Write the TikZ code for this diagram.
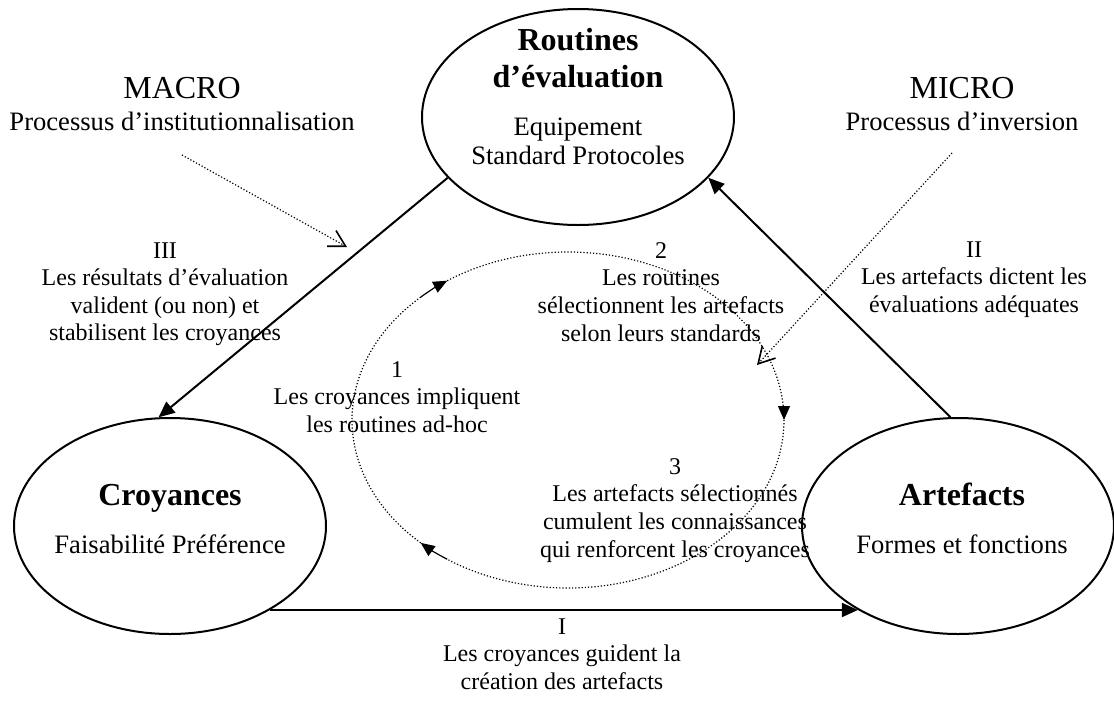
\documentclass[tikz,border=0pt]{standalone}
\usepackage{fontspec}
\setmainfont{Liberation Serif}
\usetikzlibrary{arrows.meta}
\usetikzlibrary{shapes.geometric}
\newcommand{\titre}{\fontsize{16}{18.4}\selectfont\bfseries}
\newcommand{\sous}{\fontsize{13.3}{14.5}\selectfont}
\newcommand{\corps}{\fontsize{12}{13.8}\selectfont}

\begin{document}
\begin{tikzpicture}[x=0.5pt, y=-0.5pt,
	bulle/.style={draw, line width=1pt, ellipse, minimum width=156pt, minimum height=108pt, inner sep=0pt},
	titre/.style={align=center, inner sep=0pt, font=\titre},
	sous/.style={align=center, inner sep=0pt, font=\sous},
	texte/.style={align=center, inner sep=0pt, font=\corps, anchor=north},
	fleche/.style={line width=1pt, -{Triangle[length=8pt, width=7pt]}},
	boucle/.style={densely dotted, line width=0.6pt},
	pointe/.style={line width=0.6pt, -{Triangle[length=7pt, width=6pt]}},
	influence/.style={densely dotted, line width=0.6pt, -{Straight Barb[length=8pt, width=9pt, line width=0.8pt]}}]
	\useasboundingbox (0,0) rectangle (1114,702);
	% les trois poles
	\node[bulle] (rout) at (578,117) {};
	\node[bulle] (croy) at (170,526) {};
	\node[bulle] (arte) at (958,526) {};
	\node[titre, anchor=north] (routT) at (578,28) {Routines\\d’évaluation};
	\node[sous, anchor=north] (routS) at (578,117) {Equipement\\Standard Protocoles};
	\node[titre, anchor=base] (croyT) at (170,505) {Croyances};
	\node[sous, anchor=base] (croyS) at (170,553) {Faisabilité Préférence};
	\node[titre, anchor=base] (arteT) at (962,505) {Artefacts};
	\node[sous, anchor=base] (arteS) at (962,553) {Formes et fonctions};
	% niveaux macro / micro
	\node[titre, font=\titre\mdseries, anchor=base] (macro) at (182,98) {MACRO};
	\node[sous, anchor=base] (macroS) at (182,130) {Processus d’institutionnalisation};
	\node[titre, font=\titre\mdseries, anchor=base] (micro) at (962,98) {MICRO};
	\node[sous, anchor=base] (microS) at (962,130) {Processus d’inversion};
	\coordinate (macroA) at (182,155);
	\coordinate (macroB) at (347,247);
	\coordinate (microA) at (952,153);
	\coordinate (microB) at (757,365);
	\draw[influence] (macroA) -- (macroB);
	\draw[influence] (microA) -- (microB);
	% relations entre poles
	\draw[fleche] (croy.-40) -- (arte.220);
	\draw[fleche] (arte.94) -- (rout.-25);
	\draw[fleche] (rout.205) -- (croy.96);
	\node[texte] (relI) at (562,618) {I\\Les croyances guident la\\création des artefacts};
	\node[texte] (relII) at (974,241) {II\\Les artefacts dictent les\\évaluations adéquates};
	\node[texte] (relIII) at (165,242) {III\\Les résultats d’évaluation\\valident (ou non) et\\stabilisent les croyances};
	% boucle interne
	\coordinate (cyc) at (568,420);
	\draw[boucle] (cyc) ++(133:216 and 168) arc[start angle=133, end angle=227, x radius=216, y radius=168];
	\draw[pointe] (cyc) ++(227:216 and 168) arc[start angle=227, end angle=236, x radius=216, y radius=168];
	\draw[boucle] (cyc) ++(236:216 and 168) arc[start angle=236, end angle=356, x radius=216, y radius=168];
	\draw[pointe] (cyc) ++(356:216 and 168) arc[start angle=356, end angle=360, x radius=216, y radius=168];
	\draw[boucle] (cyc) ++(0:216 and 168) arc[start angle=0, end angle=124, x radius=216, y radius=168];
	\draw[pointe] (cyc) ++(124:216 and 168) arc[start angle=124, end angle=133, x radius=216, y radius=168];
	\node[texte] (etape1) at (397,361) {1\\Les croyances impliquent\\les routines ad-hoc};
	\node[texte] (etape2) at (661,242) {2\\Les routines\\sélectionnent les artefacts\\selon leurs standards};
	\node[texte] (etape3) at (675,458) {3\\Les artefacts sélectionnés\\cumulent les connaissances\\qui renforcent les croyances};
\end{tikzpicture}
\end{document}
